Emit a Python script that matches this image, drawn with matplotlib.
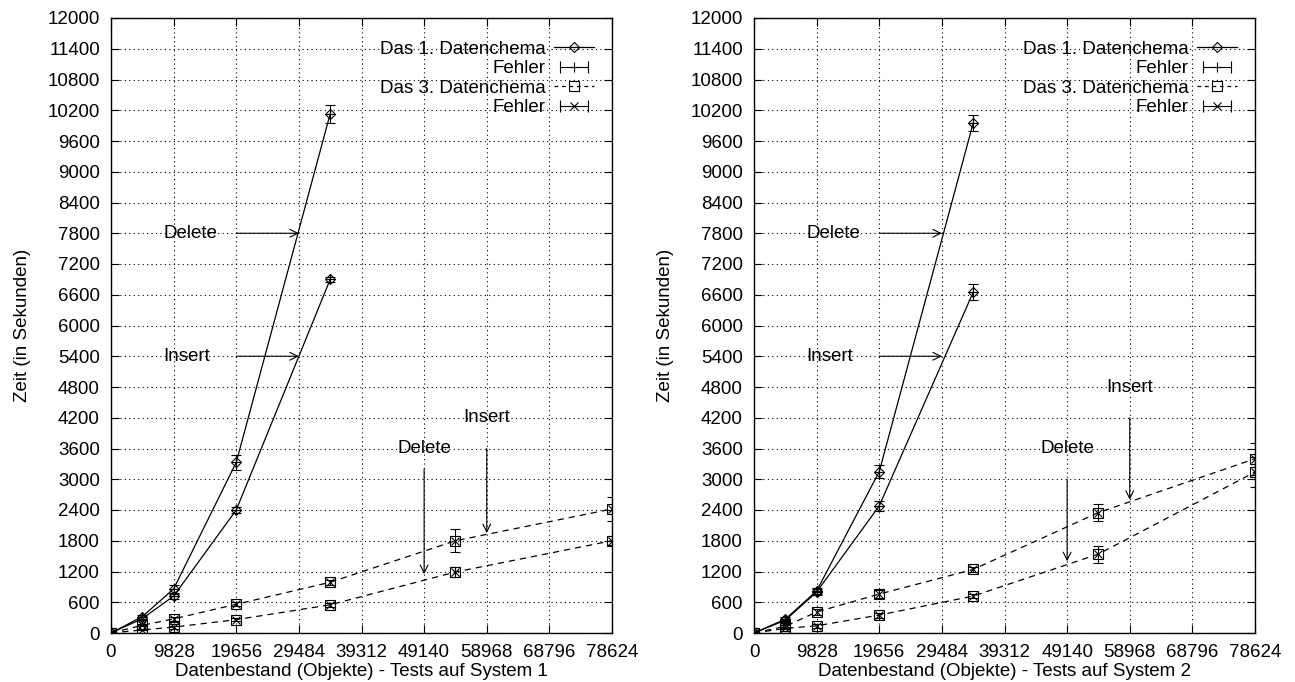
import matplotlib
matplotlib.use("Agg")
import matplotlib.pyplot as plt
from matplotlib.lines import Line2D
from matplotlib.legend_handler import HandlerLine2D, HandlerTuple

plt.rcParams['font.family'] = ['Liberation Sans', 'DejaVu Sans']
FS = 13.5

# Datenbestand (Objekte)
x_d1 = [0, 4914, 9828, 19656, 34398]
x_d3 = [0, 4914, 9828, 19656, 34398, 54054, 78624]
x_ticks = [0, 9828, 19656, 29484, 39312, 49140, 58968, 68796, 78624]
y_ticks = list(range(0, 12001, 600))

# System 1
s1_d1_del = [0, 320, 860, 3330, 10130]
s1_d1_del_err = [0, 40, 80, 150, 180]
s1_d1_ins = [0, 280, 720, 2400, 6900]
s1_d1_ins_err = [0, 30, 50, 60, 50]
s1_d3_ins = [0, 150, 275, 560, 990, 1800, 2420]
s1_d3_ins_err = [0, 20, 40, 40, 50, 220, 240]
s1_d3_del = [0, 60, 115, 260, 550, 1190, 1800]
s1_d3_del_err = [0, 10, 30, 30, 40, 100, 90]

# System 2
s2_d1_del = [0, 270, 820, 3150, 9950]
s2_d1_del_err = [0, 40, 60, 120, 150]
s2_d1_ins = [0, 250, 800, 2480, 6650]
s2_d1_ins_err = [0, 30, 50, 100, 160]
s2_d3_ins = [0, 130, 410, 760, 1240, 2350, 3400]
s2_d3_ins_err = [0, 20, 60, 80, 50, 170, 310]
s2_d3_del = [0, 90, 140, 350, 720, 1540, 3140]
s2_d3_del_err = [0, 15, 40, 50, 40, 165, 300]

fig = plt.figure(figsize=(12.95, 6.82), dpi=100)
ax1 = fig.add_axes([111 / 1295, 1 - 633 / 682, 501 / 1295, 615 / 682])
ax2 = fig.add_axes([754 / 1295, 1 - 633 / 682, 501 / 1295, 615 / 682])


def draw(ax, d1_del, d1_del_err, d1_ins, d1_ins_err,
         d3_ins, d3_ins_err, d3_del, d3_del_err, system, lower_labels):
    ms = 7
    ax.plot(x_d1, d1_del, color='black', lw=0.9, marker='D', ms=5,
            mfc='none', mew=0.8)
    ax.plot(x_d1, d1_ins, color='black', lw=0.9, marker='D', ms=5,
            mfc='none', mew=0.8)
    for y, e in [(d1_del, d1_del_err), (d1_ins, d1_ins_err)]:
        ax.errorbar(x_d1, y, yerr=e, fmt='+', color='black', ms=ms,
                    elinewidth=0.8, capsize=3.5, capthick=0.8, mew=0.8)
    ax.plot(x_d3, d3_ins, color='black', lw=0.9, ls=(0, (5, 4)),
            marker='s', ms=ms, mfc='none', mew=0.8)
    ax.plot(x_d3, d3_del, color='black', lw=0.9, ls=(0, (5, 4)),
            marker='s', ms=ms, mfc='none', mew=0.8)
    for y, e in [(d3_ins, d3_ins_err), (d3_del, d3_del_err)]:
        ax.errorbar(x_d3, y, yerr=e, fmt='x', color='black', ms=ms - 1.5,
                    elinewidth=0.8, capsize=3.5, capthick=0.8, mew=0.8)

    ax.set_xlim(0, 78624)
    ax.set_ylim(0, 12000)
    ax.set_xticks(x_ticks)
    ax.set_yticks(y_ticks)
    ax.tick_params(direction='in', length=6, width=0.8, top=True, right=True,
                   pad=8, labelsize=FS)
    ax.grid(True, color='black', lw=0.8, ls=(0, (1, 3)))
    for sp in ax.spines.values():
        sp.set_linewidth(1.0)
    ax.set_ylabel('Zeit (in Sekunden)', fontsize=FS, labelpad=12)
    ax.set_xlabel('Datenbestand (Objekte) - Tests auf System %d' % system,
                  fontsize=FS, labelpad=1)

    # labels + arrows
    arrow = dict(arrowstyle='->', lw=0.8, color='black', mutation_scale=14,
                 shrinkA=0, shrinkB=0)
    ax.text(8200, 7800, 'Delete', ha='left', va='center', fontsize=FS)
    ax.annotate('', xy=(29484, 7800), xytext=(19656, 7800), arrowprops=arrow)
    ax.text(8200, 5400, 'Insert', ha='left', va='center', fontsize=FS)
    ax.annotate('', xy=(29484, 5400), xytext=(19656, 5400), arrowprops=arrow)
    (dy, dy0, dy1), (iy, iy0, iy1) = lower_labels
    ax.text(49140, dy, 'Delete', ha='center', va='center', fontsize=FS)
    ax.annotate('', xy=(49140, dy1), xytext=(49140, dy0), arrowprops=arrow)
    ax.text(58968, iy, 'Insert', ha='center', va='center', fontsize=FS)
    ax.annotate('', xy=(58968, iy1), xytext=(58968, iy0), arrowprops=arrow)

    # legend (gnuplot style)
    h1 = Line2D([], [], color='black', lw=0.9, marker='D', ms=5,
                mfc='none', mew=0.8)
    e1_caps = Line2D([], [], color='black', lw=0.8, marker='|', ms=8, mew=0.8)
    e1_mark = Line2D([], [], color='black', lw=0, marker='+', ms=ms, mew=0.8)
    h3 = Line2D([], [], color='black', lw=0.9, ls=(0, (3, 3)), marker='s',
                ms=ms, mfc='none', mew=0.8)
    e3_caps = Line2D([], [], color='black', lw=0.8, marker='|', ms=8, mew=0.8)
    e3_mark = Line2D([], [], color='black', lw=0, marker='x', ms=ms - 1.5,
                     mew=0.8)
    hm = {e1_caps: HandlerLine2D(numpoints=2),
          e3_caps: HandlerLine2D(numpoints=2),
          tuple: HandlerTuple(ndivide=1, pad=0)}
    ax.legend([h1, (e1_caps, e1_mark), h3, (e3_caps, e3_mark)],
              ['Das 1. Datenchema', 'Fehler', 'Das 3. Datenchema', 'Fehler'],
              loc='upper right', bbox_to_anchor=(0.982, 0.978),
              markerfirst=False, frameon=False, handlelength=2.1,
              handletextpad=0.45, labelspacing=0.12, borderpad=0,
              handler_map=hm, fontsize=FS)


draw(ax1, s1_d1_del, s1_d1_del_err, s1_d1_ins, s1_d1_ins_err,
     s1_d3_ins, s1_d3_ins_err, s1_d3_del, s1_d3_del_err, 1,
     [(3600, 3200, 1150), (4200, 3600, 1950)])
draw(ax2, s2_d1_del, s2_d1_del_err, s2_d1_ins, s2_d1_ins_err,
     s2_d3_ins, s2_d3_ins_err, s2_d3_del, s2_d3_del_err, 2,
     [(3600, 3000, 1400), (4800, 4200, 2600)])

fig.savefig('out.png', dpi=100)
